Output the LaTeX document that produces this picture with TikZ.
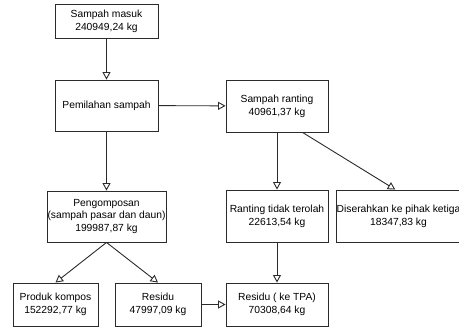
\documentclass[tikz,border=0pt]{standalone}
\usepackage{fontspec}
\setmainfont{Liberation Sans}
\usetikzlibrary{arrows.meta, positioning}
\definecolor{cline}{HTML}{2B2B2B}
\tikzset{
  every picture/.style={font=\fontsize{10.3}{12.8}\selectfont, line width=0.9pt},
  box/.style={draw=cline, fill=white, align=center, inner xsep=0pt, inner ysep=1pt, minimum width=#1},
  box/.default=102pt,
  arrow/.style={-{Triangle[open, length=7.5pt, width=8pt]}, draw=cline},
}
\begin{document}
\begin{tikzpicture}[x=1pt, y=-1pt]
  \useasboundingbox (0,0) rectangle (459,331);
  % top row
  \node[box=103pt, minimum height=34pt] (masuk) at (106.5,21) {Sampah masuk\\240949,24 kg};
  \node[box=103pt, minimum height=51pt] (pilah) at (106.5,105.5) {Pemilahan sampah};
  \node[box, minimum height=52pt] (ranting) at (277,106) {Sampah ranting\\40961,37 kg};
  % middle row
  \node[box=119pt, minimum height=51pt] (kompos) at (106.5,216.5) {Pengomposan\\(sampah pasar dan daun)\\199987,87 kg};
  \node[box, minimum height=52pt] (tidakolah) at (277,216) {Ranting tidak terolah\\22613,54 kg};
  \node[box=125pt, minimum height=52pt] (pihak3) at (398.5,216) {Diserahkan ke pihak ketiga\\18347,83 kg};
  % bottom row
  \node[box=85pt, minimum height=43pt] (produk) at (55.5,304.5) {Produk kompos\\152292,77 kg};
  \node[box=86pt, minimum height=43pt] (residu) at (158,304.5) {Residu\\47997,09 kg};
  \node[box, minimum height=43pt] (tpa) at (277,304.5) {Residu ( ke TPA)\\70308,64 kg};
  % flows
  \draw[arrow] (masuk) -- (pilah);
  \draw[arrow] (pilah) -- (ranting);
  \draw[arrow] (pilah) -- (kompos);
  \draw[arrow] (ranting) -- (tidakolah);
  \draw[arrow] (ranting.-46) -- (pihak3.97);
  \draw[arrow] (kompos.south) -- (produk.north);
  \draw[arrow] (kompos.south) -- (residu.north);
  \draw[arrow] (residu) -- (tpa);
  \draw[arrow] (tidakolah) -- (tpa);
\end{tikzpicture}
\end{document}
